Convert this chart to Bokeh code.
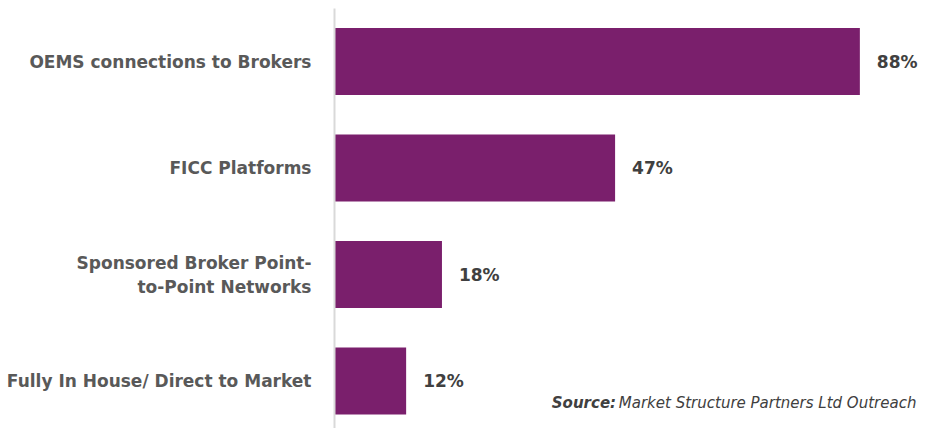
from bokeh.plotting import figure
from bokeh.models import Range1d, FixedTicker, ColumnDataSource
from bokeh.core.properties import value
from bokeh.embed import file_html
from bokeh.resources import INLINE

categories = ["OEMS connections to Brokers", "FICC Platforms",
              "Sponsored Broker Point-\nto-Point Networks", "Fully In House/ Direct to Market"]
values = [88, 47, 18, 12]
positions = [3, 2, 1, 0]
value_labels = [f"{v}%" for v in values]

FONT = "DejaVu Sans"
BAR = "#7a1f6c"

src = ColumnDataSource(dict(y=positions, v=values, lab=value_labels))

p = figure(width=931, height=428, output_backend="svg", toolbar_location=None,
           x_range=Range1d(0, 100), y_range=Range1d(-0.446, 3.498),
           min_border_left=334, min_border_right=0, min_border_top=8, min_border_bottom=0)
p.outline_line_color = None
p.grid.visible = False
p.xaxis.visible = False

p.hbar(y="y", right="v", left=0, height=0.63, source=src, color=BAR, line_color=None)
p.text(x="v", y="y", text="lab", source=src, x_offset=17, text_align="left",
       text_baseline="middle", text_font=value(FONT), text_font_style="bold",
       text_font_size="17px", text_color="#404040")

yax = p.yaxis[0]
yax.ticker = FixedTicker(ticks=positions)
yax.major_label_overrides = {pos: lab for pos, lab in zip(positions, categories)}
yax.major_tick_line_color = None
yax.minor_tick_line_color = None
yax.axis_line_color = "#d9d9d9"
yax.axis_line_width = 2
yax.major_label_standoff = 17
yax.major_label_text_font = FONT
yax.major_label_text_font_style = "bold"
yax.major_label_text_font_size = "17px"
yax.major_label_text_color = "#595959"
yax.major_label_text_align = "right"

p.text(x=[36.4], y=[-0.21], text=["Source:"], text_align="left", text_baseline="middle",
       text_font=value(FONT), text_font_style="bold italic", text_font_size="15px",
       text_color="#404040")
p.text(x=[36.4], y=[-0.21], text=["Market Structure Partners Ltd Outreach"], x_offset=67,
       text_align="left", text_baseline="middle", text_font=value(FONT),
       text_font_style="italic", text_font_size="15px", text_color="#404040")

open("out.html", "w").write(file_html(p, INLINE))
